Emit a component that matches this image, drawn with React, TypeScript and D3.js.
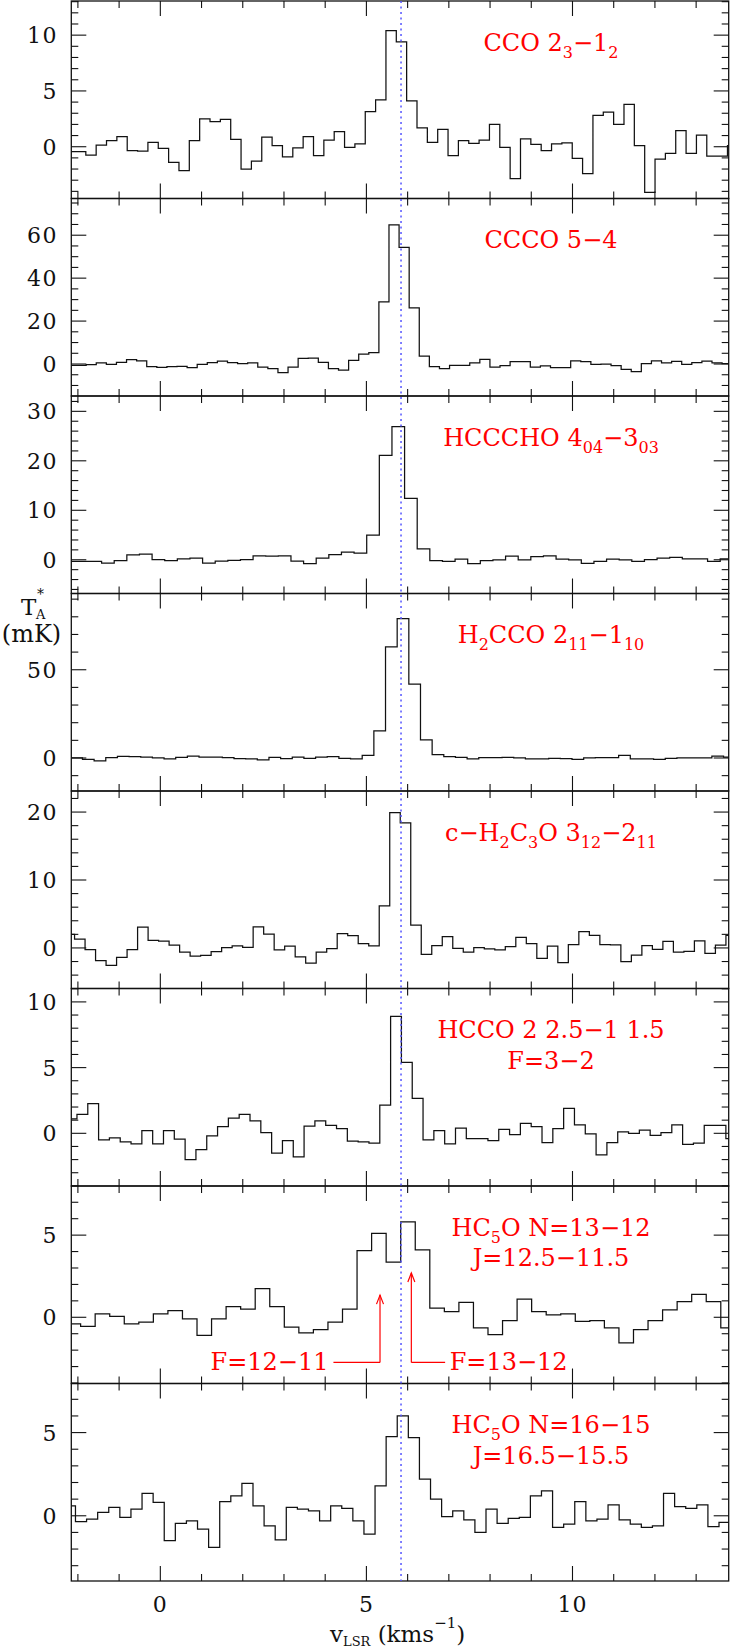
import React from "react";
import * as d3 from "d3";

const W = 731;
const H = 1649;
const X0 = 71.3;
const X1 = 728.7;
const TOP = 1;
const PH = 197.5;
const FONT = "DejaVu Serif";

// channel temperatures (mK), one array per line
const ccoT = [-0.45, -0.45, -0.75, 0.15, 0.55, 0.9, -0.35, -0.4, 0.4, -0.15, -1.4, -2.15, 0.55, 2.5, 2.25, 2.45, 0.65, -2.0, -1.3, 0.85, 0.1, -0.9, -0.1, 0.9, -0.8, 0.6, 1.35, -0.05, 0.25, 3.15, 4.2, 10.4, 9.4, 4.1, 1.7, 0.4, 1.55, -0.8, 0.55, 0.3, 0.6, 2.0, -0.05, -2.85, 0.7, 0.2, -0.35, 0.25, 0.35, -1.05, -2.4, 2.8, 3.1, 2.0, 3.8, 0.1, -4.1, -1.1, -0.6, 1.45, -0.6, 1.05, -0.85, -0.85, 0.1];
const cccoT = [-0.6, -0.6, -0.3, 0.5, -0.15, 0.8, 2.0, 1.5, -1.25, -1.55, -1.25, -1.1, -1.7, -0.15, 0.6, 1.4, 0.6, 0.15, 0.5, -1.4, -2.2, -4.0, -1.4, 2.6, 2.8, 0.8, -2.2, -2.9, 1.7, 4.6, 5.3, 29, 64.8, 54.3, 26.2, 3.7, -1.2, -2.2, -0.6, -0.6, 0.5, 2.2, -1.4, -0.8, 1.1, 1.1, -1.4, -0.9, -1.7, -1.7, 1.5, 1.1, -0.15, 0, -0.8, -2.5, -3.6, 0.15, 1.5, 0.5, 1.2, -0.15, 0.6, 1.4, 0.5, 0.15];
const hccchoT = [-0.35, -0.35, -0.35, -0.7, -0.15, 1.0, 1.15, 0.05, -0.15, 0.2, 0.35, -0.7, -0.3, -0.1, 0.05, 0.8, 0.75, 0.8, -0.3, -0.8, 0.35, 1.05, 1.55, 1.35, 5.0, 21.1, 26.9, 12.4, 2.2, -0.15, -0.35, 0.15, -0.8, -0.2, 0, 0.75, 0, 0.65, 0.8, 0.15, 0, -0.75, -0.35, 0.15, 0, -0.35, 0.05, 0.35, 0.5, 0.2, 0.2, -0.35, 0.2];
const h2ccoT = [0, -0.75, -1.7, 0.2, 0.95, 0.75, 0.55, 0, -0.55, 0.4, 1.1, 0.55, 0.55, 0.2, -0.4, -0.55, -1.1, 0.4, -0.4, 0.55, -0.2, 0.55, 0.75, -0.2, -0.55, 1.5, 15.3, 63, 78.9, 41.9, 10.2, 1.9, 0.75, 0.4, -0.55, 0.2, 0.2, 0.4, 0, -0.55, -0.55, -0.2, -0.4, -0.75, 0, 0.2, 0.2, 1.5, -0.55, -0.55, -0.75, -0.2, 0, 0, 0, 1.1, 0.55];
const cH2C3OT = [2.0, 1.3, -0.25, -1.85, -2.55, -1.4, -0.25, 3.05, 1.1, 1.0, 0.4, -0.6, -1.2, -1.1, -0.55, 0.05, 0.3, 0.1, 3.1, 2.05, -0.3, 0.25, -1.3, -2.25, -0.6, -0.1, 2.1, 1.8, 0.65, 0.3, 6.2, 19.9, 18.4, 3.35, -0.95, 0.35, 1.65, -0.05, -0.6, 0.05, -0.15, -0.3, 0.2, 1.55, 0.65, -1.55, 0.25, -2.15, 0.5, 2.4, 1.85, 0.5, 0.45, -2.0, -1.05, 0.35, -0.2, 0.95, -0.6, -0.5, 1.05, -0.8, 0.4, 1.85];
const hccoT = [1.1, 1.45, 2.25, -0.5, -0.35, -0.65, -0.8, 0.2, -0.8, 0.2, -0.45, -2.0, -1.25, -0.2, 0.5, 1.15, 1.45, 0.95, 0.05, -1.5, -0.55, -1.8, 0.55, 0.95, 0.6, 0.35, -0.6, -0.65, -0.75, 2.15, 8.9, 5.4, 2.65, -0.5, 0.2, -0.8, 0.4, -0.4, -0.4, -0.55, 0.3, -0.1, 0.75, 0.5, -0.7, 0.35, 1.9, 0.65, -0.05, -1.65, -0.7, 0.1, 0, 0.25, -0.15, 0.05, 0.65, -0.85, -0.75, 0.6, 0.6, -0.4];
const hc5o13T = [-0.4, -0.55, 0.2, 0.05, -0.4, -0.3, 0.2, 0.4, -0.1, -1.1, -0.1, 0.65, 0.5, 1.75, 0.65, -0.6, -0.95, -0.75, -0.3, 0.5, 4.05, 5.1, 3.35, 5.8, 4.1, 0.55, 0.35, 0.9, -0.65, -1.05, -0.2, 1.1, 0.35, 0.15, 0.2, -0.25, -0.2, -0.65, -1.55, -0.75, -0.2, 0.45, 0.95, 1.4, 0.95, -0.65];
const hc5o16T = [0.6, -0.35, -0.2, 0.2, 0.5, -0.1, 0.4, 1.35, 0.8, -1.5, -0.45, -0.3, -0.8, -1.9, 0.85, 1.2, 1.95, 0.6, -0.6, -1.45, 0.5, 0.4, 0.3, -0.3, 0.6, 0.45, -0.3, -1.1, 1.8, 4.75, 6.0, 4.7, 2.2, 1.0, -0.05, 0.3, -0.25, -1.0, 0.4, -0.45, -0.15, -0.1, 1.2, 1.5, -0.7, -0.5, 0.85, -0.3, -0.2, 0.65, -0.25, -0.5, -0.7, -0.6, 1.35, 0.55, 0.45, 0.65, -0.65, -0.4];

// first channel left edge and channel width (km/s)
const chanStart = [-2.31, -2.289, -2.344, -2.172, -2.336, -2.285, -2.287, -2.328];
const chanWidth = [0.2511, 0.2449, 0.3063, 0.2828, 0.2549, 0.2624, 0.353, 0.2692];

// y ranges and tick steps
const yLow = [-4.64, -14.9, -6.82, -18.7, -5.97, -4.01, -4.03, -3.92];
const yHigh = [13.06, 77.1, 33.1, 93.2, 23.1, 11.02, 7.99, 7.95];
const yMajor = [5, 20, 10, 50, 10, 5, 5, 5];
const yMinor = [1, 5, 2, 10, 2, 1, 1, 1];

const vDomain = [-2.16, 13.79];
const vTicks = d3.range(-2, 14, 1);
const vLabels = [0, 5, 10];
const vSys = 5.84;

// line labels: [text, 1 = subscript]
type Seg = [string, number];
const lineLabels: Seg[][][] = [
  [[["CCO 2", 0], ["3", 1], ["−1", 0], ["2", 1]]],
  [[["CCCO 5−4", 0]]],
  [[["HCCCHO 4", 0], ["04", 1], ["−3", 0], ["03", 1]]],
  [[["H", 0], ["2", 1], ["CCO 2", 0], ["11", 1], ["−1", 0], ["10", 1]]],
  [[["c−H", 0], ["2", 1], ["C", 0], ["3", 1], ["O 3", 0], ["12", 1], ["−2", 0], ["11", 1]]],
  [[["HCCO 2 2.5−1 1.5", 0]], [["F=3−2", 0]]],
  [[["HC", 0], ["5", 1], ["O N=13−12", 0]], [["J=12.5−11.5", 0]]],
  [[["HC", 0], ["5", 1], ["O N=16−15", 0]], [["J=16.5−15.5", 0]]],
];

// hyperfine markers in the HC5O 13-12 panel
const hfsNames = ["F=12−11", "F=13−12"];
const hfsVel = [5.33, 6.09];
const hfsTip = [1.35, 2.7];
const hfsFootEnd = [4.2, 6.91];
const hfsTextAt = [4.08, 7.02];
const hfsFoot = -2.75;

const spectra = [ccoT, cccoT, hccchoT, h2ccoT, cH2C3OT, hccoT, hc5o13T, hc5o16T];

const x = d3.scaleLinear().domain(vDomain).range([X0, X1]);

function Label({ cx, y, segs }: { cx: number; y: number; segs: Seg[] }) {
  let shift = 0;
  return (
    <text x={cx} y={y} textAnchor="middle" fill="#ff0000" fontSize={24} fontFamily={FONT} style={{ whiteSpace: "pre" }}>
      {segs.map(([t, s], i) => {
        const target = s ? 7 : 0;
        const dy = target - shift;
        shift = target;
        return (
          <tspan key={i} dy={dy} fontSize={s ? 16 : 24}>
            {t}
          </tspan>
        );
      })}
    </text>
  );
}

function Panel({ i }: { i: number }) {
  const top = TOP + i * PH;
  const bottom = top + PH;
  const y = d3.scaleLinear().domain([yLow[i], yHigh[i]]).range([bottom, top]);
  const vals = spectra[i];
  const pts: [number, number][] = vals.map((t, k) => [chanStart[i] + k * chanWidth[i], t]);
  pts.push([chanStart[i] + vals.length * chanWidth[i], vals[vals.length - 1]]);
  const line = d3
    .line<[number, number]>()
    .x((d) => x(d[0]))
    .y((d) => y(d[1]))
    .curve(d3.curveStepAfter);

  const step = yMinor[i];
  const yt = d3.range(Math.ceil(yLow[i] / step) * step, yHigh[i], step).map((v) => Math.round(v * 1000) / 1000);
  const isMajor = (v: number) => Math.abs(v / yMajor[i] - Math.round(v / yMajor[i])) < 1e-6;
  const clipId = `clip${i}`;

  return (
    <g>
      <clipPath id={clipId}>
        <rect x={X0} y={top} width={X1 - X0} height={PH} />
      </clipPath>
      <path d={line(pts) || ""} fill="none" stroke="#111" strokeWidth={1.25} clipPath={`url(#${clipId})`} />
      <rect x={X0} y={top} width={X1 - X0} height={PH} fill="none" stroke="#111" strokeWidth={1.3} />
      {vTicks.map((v) => {
        const len = v % 5 === 0 ? 15 : 7;
        return (
          <g key={"x" + v} stroke="#111" strokeWidth={1.1}>
            <line x1={x(v)} x2={x(v)} y1={bottom} y2={bottom - len} />
            <line x1={x(v)} x2={x(v)} y1={top} y2={top + len} />
          </g>
        );
      })}
      {yt.map((v) => {
        const len = isMajor(v) ? 15 : 7;
        return (
          <g key={"y" + v} stroke="#111" strokeWidth={1.1}>
            <line x1={X0} x2={X0 + len} y1={y(v)} y2={y(v)} />
            <line x1={X1} x2={X1 - len} y1={y(v)} y2={y(v)} />
          </g>
        );
      })}
      {yt
        .filter((v) => isMajor(v) && v >= 0)
        .map((v) => (
          <text key={"yl" + v} x={58} y={y(v) + 8} textAnchor="end" fontSize={22} fontFamily={FONT} letterSpacing={1.5} fill="#111">
            {v}
          </text>
        ))}
      {lineLabels[i].map((segs, k) => (
        <Label key={k} cx={551} y={top + 49.5 + k * 30.5} segs={segs} />
      ))}
      {i === 6 &&
        hfsNames.map((name, k) => {
          const ax = x(hfsVel[k]);
          const ty = y(hfsTip[k]);
          const fy = y(hfsFoot);
          return (
            <g key={name} stroke="#ff0000" strokeWidth={1.2} fill="none">
              <line x1={ax} x2={ax} y1={ty} y2={fy} />
              <line x1={ax} x2={x(hfsFootEnd[k])} y1={fy} y2={fy} />
              <polyline points={`${ax - 3.5},${ty + 9} ${ax},${ty} ${ax + 3.5},${ty + 9}`} />
              <text
                x={x(hfsTextAt[k])}
                y={fy + 8}
                textAnchor={k === 0 ? "end" : "start"}
                fill="#ff0000"
                stroke="none"
                fontSize={24}
                fontFamily={FONT}
              >
                {name}
              </text>
            </g>
          );
        })}
    </g>
  );
}

export default function App() {
  const last = TOP + 8 * PH;
  return (
    <svg width={W} height={H} style={{ position: "absolute", left: 0, top: 0, background: "#fff" }}>
      <rect width={W} height={H} fill="#fff" />
      {spectra.map((_, i) => (
        <Panel key={i} i={i} />
      ))}
      <line x1={x(vSys)} x2={x(vSys)} y1={TOP} y2={last} stroke="#5555ff" strokeWidth={1.5} strokeDasharray="2,3.5" />
      {vLabels.map((v) => (
        <text key={v} x={x(v)} y={1612} textAnchor="middle" fontSize={22} fontFamily={FONT} letterSpacing={1} fill="#111">
          {v}
        </text>
      ))}
      <text x={330} y={1642} fontSize={23} fontFamily={FONT} fill="#111" style={{ whiteSpace: "pre" }}>
        v
        <tspan dy={4} fontSize={13}>
          LSR
        </tspan>
        <tspan dy={-4}> (kms</tspan>
        <tspan dy={-14} fontSize={15}>
          −1
        </tspan>
        <tspan dy={14}>)</tspan>
      </text>
      <text x={21} y={615} fontSize={23} fontFamily={FONT} fill="#111">
        T
      </text>
      <text x={36} y={619} fontSize={13} fontFamily={FONT} fill="#111">
        A
      </text>
      <text x={37} y={599} fontSize={14} fontFamily={FONT} fill="#111">
        *
      </text>
      <text x={31.5} y={642} textAnchor="middle" fontSize={24} fontFamily={FONT} fill="#111">
        (mK)
      </text>
    </svg>
  );
}
